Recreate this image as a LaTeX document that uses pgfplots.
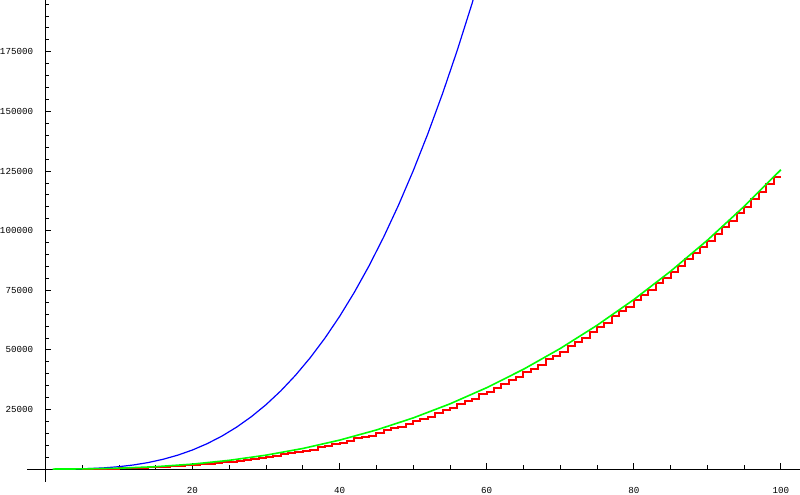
\documentclass[border=0pt]{standalone}
\usepackage{fontspec}
\usepackage{pgfplots}
\pgfplotsset{compat=1.18}
\newfontfamily\tickfont{Liberation Mono}
\pgfplotstableread{
x y
4 64
6 216
8 512
10 1000
12 1728
14 2744
16 4096
18 5832
20 8000
22 10648
24 13824
26 17576
28 21952
30 27000
32 32768
34 39304
36 46656
38 54872
40 64000
42 74088
44 85184
46 97336
48 110592
50 125000
52 140608
54 157464
56 175616
58 195112
60 216000
}\bluedata
\pgfplotstableread{
x y
1 1
5 60
10 354
15 995
20 2072
25 3659
30 5826
35 8631
40 12132
45 16383
50 21434
55 27330
60 34120
65 41841
70 50551
75 60271
80 71054
85 82933
90 95940
95 110131
100 125515
}\greendata
\pgfplotstableread{
x y
5 30
6 80
7 120
8 170
9 230
10 290
11 400
12 520
13 640
14 720
15 800
16 970
17 1150
18 1320
19 1500
20 1670
21 1950
22 2150
23 2500
24 2780
25 3060
26 3360
27 3870
28 4270
29 4770
30 5080
31 5460
32 6140
33 6670
34 7350
35 7730
36 8190
37 9050
38 9860
39 10370
40 10830
41 11840
42 12850
43 13460
44 14020
45 15080
46 16270
47 17060
48 17750
49 19040
50 20280
51 21180
52 22030
53 23680
54 24630
55 25530
56 27280
57 28480
58 29520
59 31370
60 32520
61 33840
62 35870
63 37240
64 38520
65 40590
66 42160
67 43640
68 45960
69 47480
70 49000
71 51480
72 53300
73 55070
74 57500
75 59370
76 61380
77 64030
78 66140
79 68150
80 70750
81 73080
82 75260
83 77930
84 80160
85 82780
86 85190
87 88010
88 90420
89 93230
90 95840
91 98440
92 101540
93 104190
94 107230
95 109830
96 113170
97 116060
98 119340
99 122440
100 122440
}\reddata
\begin{document}
\begin{tikzpicture}
\begin{axis}[
  scale only axis,
  width=386.5pt, height=240.85pt,
  xmin=-2.5, xmax=102.6,
  ymin=-5300, ymax=196700,
  axis lines=middle,
  every inner x axis line/.append style={-},
  every inner y axis line/.append style={-},
  axis line style={black, line width=0.5pt},
  tick align=inside,
  major tick length=3pt,
  minor tick length=1.8pt,
  tick style={black, line width=0.4pt},
  xtick={20,40,60,80,100},
  ytick={25000,50000,75000,100000,125000,150000,175000},
  minor xtick={5,10,...,100},
  minor ytick={5000,10000,...,195000},
  scaled ticks=false,
  /pgf/number format/.cd, fixed, 1000 sep={}, assume math mode=true,
  /pgfplots/.cd,
  ticklabel style={font=\tickfont\fontsize{4.6}{5}\selectfont},
  xticklabel style={anchor=north, yshift=-5.5pt},
  yticklabel style={anchor=east, xshift=-2.6pt},
  clip=true,
]
\coordinate (ll) at (rel axis cs:0,0);
\coordinate (ur) at (rel axis cs:1,1);
\addplot[blue, line width=0.6pt, no marks] table {\bluedata};
\addplot[red, line width=1pt, no marks, const plot] table {\reddata};
\addplot[green, line width=0.8pt, no marks] table {\greendata};
\end{axis}
\pgfresetboundingbox
\path (ll) ++(-13.5pt,-6.15pt) rectangle (ur);
\end{tikzpicture}
\end{document}
